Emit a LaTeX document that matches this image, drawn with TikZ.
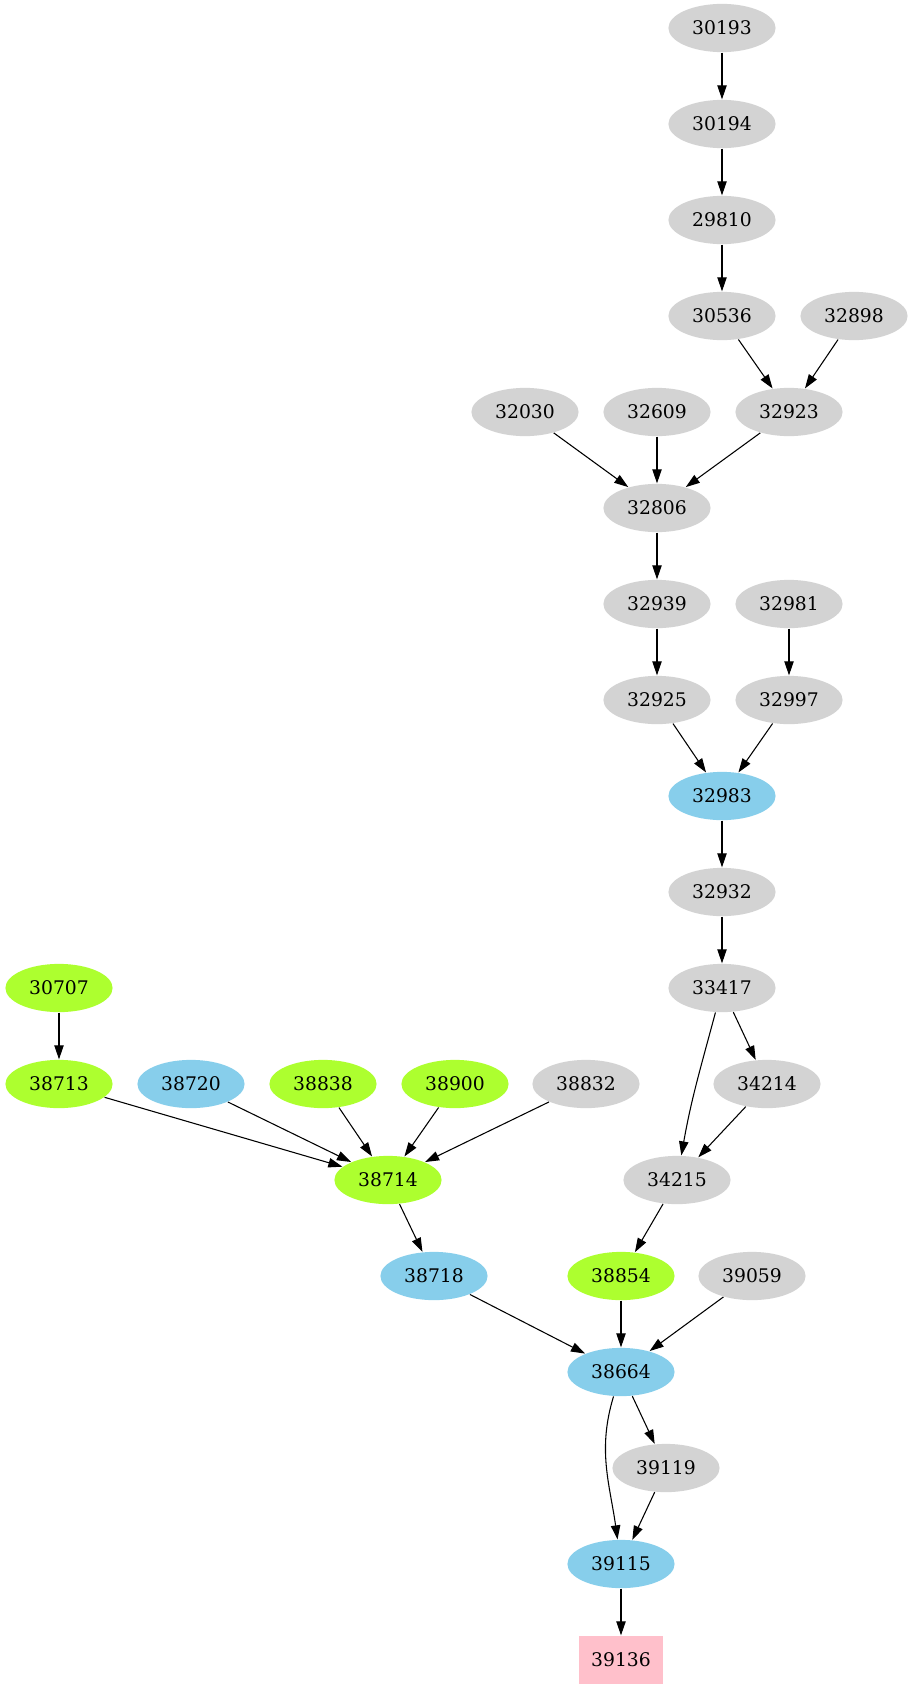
\documentclass[tikz,border=0pt]{standalone}
\usepackage{fontspec}
\setmainfont{DejaVu Serif}
\usetikzlibrary{arrows.meta,shapes.geometric}
\definecolor{nodegrey}{HTML}{D3D3D3}
\definecolor{nodeblue}{HTML}{87CEEB}
\definecolor{nodegreen}{HTML}{ADFF2F}
\definecolor{nodepink}{HTML}{FFC0CB}

\begin{document}
\begin{tikzpicture}[x=0.7463pt,y=-0.7463pt,
    every node/.style={font=\fontsize{14}{16}\selectfont, inner sep=0pt},
    oval/.style={ellipse, minimum width=80pt, minimum height=36pt},
    grey/.style={oval, fill=nodegrey},
    blue/.style={oval, fill=nodeblue},
    green/.style={oval, fill=nodegreen},
    sink/.style={rectangle, fill=nodepink, minimum width=63pt, minimum height=36pt},
    every path/.style={line width=0.8pt},
    >={Triangle[length=10.5pt,width=7pt]}]

\useasboundingbox (0,0) rectangle (914,1691);

\node[grey]  (n30193) at (722,28)   {30193};
\node[grey]  (n30194) at (722,124)  {30194};
\node[grey]  (n29810) at (722,220)  {29810};
\node[grey]  (n30536) at (722,316)  {30536};
\node[grey]  (n32898) at (854,316)  {32898};
\node[grey]  (n32030) at (525,412)  {32030};
\node[grey]  (n32609) at (657,412)  {32609};
\node[grey]  (n32923) at (789,412)  {32923};
\node[grey]  (n32806) at (657,508)  {32806};
\node[grey]  (n32939) at (657,604)  {32939};
\node[grey]  (n32981) at (789,604)  {32981};
\node[grey]  (n32925) at (657,700)  {32925};
\node[grey]  (n32997) at (789,700)  {32997};
\node[blue]  (n32983) at (722,796)  {32983};
\node[grey]  (n32932) at (722,892)  {32932};
\node[green] (n30707) at (59,988)   {30707};
\node[grey]  (n33417) at (722,988)  {33417};
\node[green] (n38713) at (59,1084)  {38713};
\node[blue]  (n38720) at (191,1084) {38720};
\node[green] (n38838) at (323,1084) {38838};
\node[green] (n38900) at (455,1084) {38900};
\node[grey]  (n38832) at (586,1084) {38832};
\node[grey]  (n34214) at (767,1084) {34214};
\node[green] (n38714) at (388,1180) {38714};
\node[grey]  (n34215) at (677,1180) {34215};
\node[blue]  (n38718) at (434,1276) {38718};
\node[green] (n38854) at (621,1276) {38854};
\node[grey]  (n39059) at (752,1276) {39059};
\node[blue]  (n38664) at (621,1372) {38664};
\node[grey]  (n39119) at (666,1468) {39119};
\node[blue]  (n39115) at (621,1564) {39115};
\node[sink]  (n39136) at (621,1660) {39136};

\draw[->] (n30193) -- (n30194);
\draw[->] (n30194) -- (n29810);
\draw[->] (n29810) -- (n30536);
\draw[->] (n30536) -- (n32923);
\draw[->] (n32898) -- (n32923);
\draw[->] (n32030) -- (n32806);
\draw[->] (n32609) -- (n32806);
\draw[->] (n32923) -- (n32806);
\draw[->] (n32806) -- (n32939);
\draw[->] (n32939) -- (n32925);
\draw[->] (n32981) -- (n32997);
\draw[->] (n32925) -- (n32983);
\draw[->] (n32997) -- (n32983);
\draw[->] (n32983) -- (n32932);
\draw[->] (n32932) -- (n33417);
\draw[->] (n33417) to[out=-105,in=80] (n34215);
\draw[->] (n33417) -- (n34214);
\draw[->] (n34214) -- (n34215);
\draw[->] (n30707) -- (n38713);
\draw[->] (n38713) -- (n38714);
\draw[->] (n38720) -- (n38714);
\draw[->] (n38838) -- (n38714);
\draw[->] (n38900) -- (n38714);
\draw[->] (n38832) -- (n38714);
\draw[->] (n38714) -- (n38718);
\draw[->] (n34215) -- (n38854);
\draw[->] (n38718) -- (n38664);
\draw[->] (n38854) -- (n38664);
\draw[->] (n39059) -- (n38664);
\draw[->] (n38664) to[out=-107,in=98] (n39115);
\draw[->] (n38664) -- (n39119);
\draw[->] (n39119) -- (n39115);
\draw[->] (n39115) -- (n39136);
\end{tikzpicture}
\end{document}
